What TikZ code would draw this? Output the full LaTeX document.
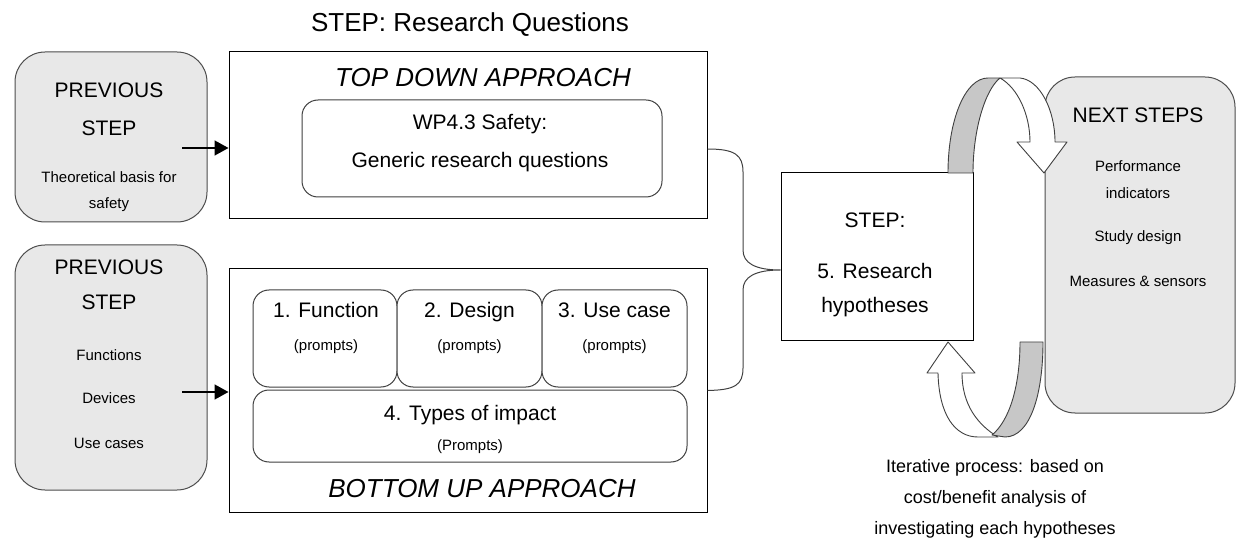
\documentclass[tikz,border=0pt]{standalone}
\usepackage{fontspec}
\setmainfont{Liberation Sans}
\usetikzlibrary{arrows.meta, positioning}

\tikzset{
  box/.style={draw, line width=1pt, fill=white, inner sep=0pt},
  roundbox/.style={draw=black!75, line width=1pt, rounded corners=16pt, fill=white, inner sep=0pt},
  prevbox/.style={draw=black!70, line width=1pt, rounded corners=30pt, fill=black!9, inner sep=0pt},
  ribbon/.style={draw=black!75, line width=0.9pt, line join=round},
  feed/.style={line width=1.6pt, -{Triangle[length=14pt,width=15pt]}},
  titletxt/.style={font=\fontsize{26}{30}\selectfont, inner sep=0pt, text height=19pt, text depth=0pt},
  headtxt/.style={font=\fontsize{21}{25}\selectfont, inner sep=0pt, text height=15pt, text depth=0pt},
  bodytxt/.style={font=\fontsize{15}{18}\selectfont, inner sep=0pt, text height=11pt, text depth=0pt},
  notetxt/.style={font=\fontsize{18}{22}\selectfont, inner sep=0pt, text height=13pt, text depth=0pt},
  approachtxt/.style={font=\fontsize{26}{30}\selectfont\itshape, inner sep=0pt, text height=19pt, text depth=0pt}
}

\begin{document}
\begin{tikzpicture}[x=1pt,y=-1pt]
\useasboundingbox (0,0) rectangle (1237,545);

\node[titletxt] (title) at (470,22) {STEP: Research Questions};

% previous steps
\node[prevbox, minimum width=192pt, minimum height=170pt] (prev1) at (111,137) {};
\node[headtxt] (prev1a) at (109,90) {PREVIOUS};
\node[headtxt] (prev1b) at (109,128) {STEP};
\node[bodytxt] (prev1c) at (109,177) {Theoretical basis for};
\node[bodytxt] (prev1d) at (109,203) {safety};

\node[prevbox, minimum width=192pt, minimum height=245pt] (prev2) at (111,367.5) {};
\node[headtxt] (prev2a) at (109,267) {PREVIOUS};
\node[headtxt] (prev2b) at (109,302) {STEP};
\node[bodytxt] (prev2c) at (109,355) {Functions};
\node[bodytxt] (prev2d) at (109,398) {Devices};
\node[bodytxt] (prev2e) at (109,443) {Use cases};

% top down
\node[box, minimum width=478pt, minimum height=167pt] (topdown) at (468,135.5) {};
\node[approachtxt] (topdownlbl) at (483,77) {TOP DOWN APPROACH};
\node[roundbox, minimum width=360pt, minimum height=97pt] (wp) at (482,148.5) {};
\node[headtxt] (wpa) at (480,122) {WP4.3 Safety:};
\node[headtxt] (wpb) at (480,160) {Generic research questions};

% bottom up
\node[box, minimum width=478pt, minimum height=243pt] (bottomup) at (468,390.5) {};
\node[approachtxt] (bottomuplbl) at (482,487.5) {BOTTOM UP APPROACH};
\node[roundbox, minimum width=144pt, minimum height=97pt] (func) at (325,338.5) {};
\node[roundbox, minimum width=145pt, minimum height=97pt] (design) at (469.5,338.5) {};
\node[roundbox, minimum width=145pt, minimum height=97pt] (usecase) at (614.5,338.5) {};
\node[roundbox, minimum width=434pt, minimum height=72pt] (impact) at (470,426) {};
\node[headtxt] (funca) at (326,310) {1. Function};
\node[bodytxt] (funcb) at (326,345) {(prompts)};
\node[headtxt] (designa) at (469.5,310) {2. Design};
\node[bodytxt] (designb) at (469.5,345) {(prompts)};
\node[headtxt] (usecasea) at (614.5,310) {3. Use case};
\node[bodytxt] (usecaseb) at (614.5,345) {(prompts)};
\node[headtxt] (impacta) at (470,413) {4. Types of impact};
\node[bodytxt] (impactb) at (470,445) {(Prompts)};

% inputs
\coordinate (in1) at (182,148);
\coordinate (in2) at (182,392);
\draw[feed] (in1) -- (in1 -| topdown.west);
\draw[feed] (in2) -- (in2 -| bottomup.west);

% step
\node[box, minimum width=192pt, minimum height=168pt] (step) at (877,257) {};
\node[headtxt] (stepa) at (875,220) {STEP:};
\node[headtxt] (stepb) at (875,271) {5. Research};
\node[headtxt] (stepc) at (875,305) {hypotheses};

% brace
\coordinate (bracetop) at ([yshift=-13.5pt]topdown.east);
\coordinate (bracemid) at ([yshift=-13pt]step.west);
\coordinate (bracebot) at (bottomup.east);
\draw[line width=1pt, black!75] (bracetop) .. controls (735,149) and (743,155) .. (743,172)
  -- (743,250) .. controls (743,263) and (755,270) .. (bracemid)
  .. controls (755,270) and (743,277) .. (743,290)
  -- (743,368) .. controls (743,385) and (735,390) .. (bracebot);

% next steps
\node[prevbox, minimum width=190pt, minimum height=336pt] (next) at (1140,245) {};
\node[headtxt] (nexta) at (1138,115) {NEXT STEPS};
\node[bodytxt] (nextb) at (1138,166) {Performance};
\node[bodytxt] (nextc) at (1138,193) {indicators};
\node[bodytxt] (nextd) at (1138,236) {Study design};
\node[bodytxt] (nexte) at (1138,281) {Measures \& sensors};

% iteration loop
\draw[ribbon, fill=white] (1000,78) -- (1020,78) .. controls (1040,80) and (1055,110) .. (1055,142)
  -- (1067,142) -- (1044,173) -- (1017,142) -- (1030,142)
  .. controls (1030,115) and (1018,88) .. (1000,78) -- cycle;
\draw[ribbon, fill=black!22] (948,173) .. controls (948,120) and (965,78) .. (988,78)
  -- (1000,78) .. controls (985,90) and (973,130) .. (973,173) -- cycle;
\draw[ribbon, fill=white] (962,373) -- (975,373) -- (948,342) -- (927,373) -- (938,373)
  .. controls (939,415) and (955,437) .. (978,437) -- (998,437)
  .. controls (978,425) and (962,405) .. (962,373) -- cycle;
\draw[ribbon, fill=black!22] (1020,342) -- (1043,342) .. controls (1043,395) and (1030,437) .. (1005,437)
  -- (992,435) .. controls (1010,420) and (1020,385) .. (1020,342) -- cycle;

\node[notetxt] (note1) at (995,466) {Iterative process: based on};
\node[notetxt] (note2) at (995,497) {cost/benefit analysis of};
\node[notetxt] (note3) at (995,528) {investigating each hypotheses};
\end{tikzpicture}
\end{document}
